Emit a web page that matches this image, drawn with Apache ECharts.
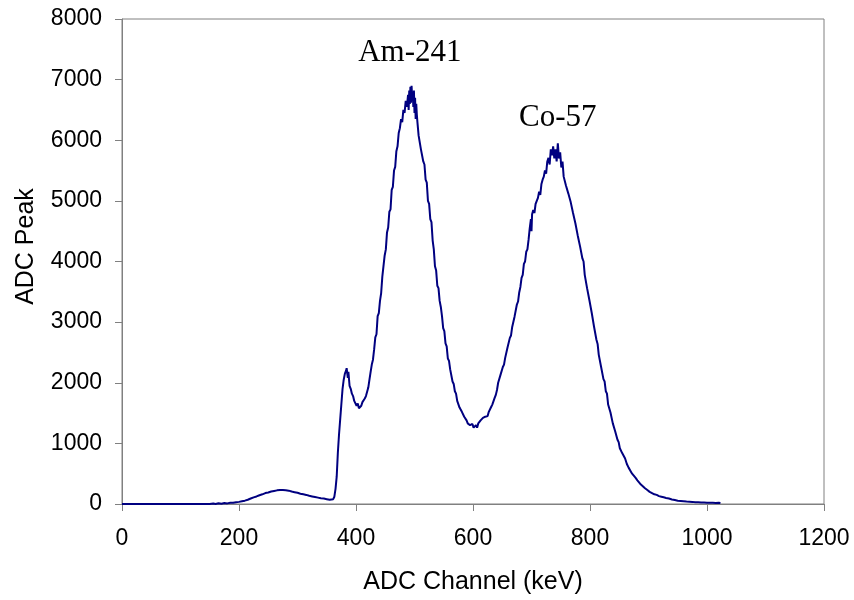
<!DOCTYPE html>
<html>
<head>
<meta charset="utf-8">
<script src="https://cdn.jsdelivr.net/npm/echarts@6/dist/echarts.min.js"></script>
<style>html,body{margin:0;padding:0;background:#fff}#c{width:854px;height:600px}</style>
</head>
<body>
<div id="c"></div>
<script>
const channels = [0,40,80,120,150,156,160,165,170,175,180,185,190,195,200,205,210,215,220,225,230,235,240,245,250,255,260,265,270,275,280,285,290,295,300,305,310,315,320,325,330,335,340,345,350,355,358,361,363,365,367,369,371,373,375,377,379,381,383,384,386,387,389,391,393,395,397,399,401,403,405,407,409,411,413,415,417,419,421,423,425,427,429,431,433,435,437,439,441,443,445,447,449,451,453,455,457,459,461,463,465,467,469,471,473,475,477,479,481,483,485,487,489,490,491,492,493,494,495,496,497,498,499,500,501,502,503,504,505,507,509,511,513,515,517,519,521,523,525,527,529,531,533,535,537,539,541,543,545,547,549,551,553,555,557,559,561,563,565,567,569,571,573,575,577,579,581,583,585,587,589,591,593,595,597,599,601,603,605,607,609,611,613,615,617,619,621,623,625,627,629,631,633,635,637,639,641,643,645,647,649,651,653,655,657,659,661,663,665,667,669,671,673,675,677,679,681,683,685,687,689,691,693,695,697,699,700,701,703,705,707,709,711,713,715,717,719,721,723,725,727,729,731,733,735,737,739,741,743,745,747,749,751,753,755,757,759,761,763,765,767,769,771,773,775,777,779,781,783,785,787,789,791,793,795,797,799,801,803,805,807,809,811,813,815,817,819,821,823,825,827,829,831,833,835,837,839,841,843,845,847,849,851,853,855,857,860,863,866,869,872,875,878,881,884,887,890,894,898,902,906,910,914,918,922,926,930,935,940,945,950,955,960,965,970,975,980,985,990,995,1000,1005,1010,1015,1020,1023];
const counts = [0,0,0,0,0,8,0,12,5,15,10,20,22,30,35,45,55,70,90,110,125,145,160,180,190,205,215,225,232,230,228,220,205,195,185,170,160,150,135,125,115,105,95,90,80,70,65,80,120,250,450,850,1150,1400,1650,1900,2050,2150,2200,2240,2080,2180,1950,1900,1820,1780,1700,1660,1620,1660,1580,1600,1620,1680,1650,1740,1780,1850,1920,2050,2180,2300,2380,
2550,2750,2800,3100,3150,3350,3480,3750,3780,4100,4200,4480,4560,4820,4860,5180,5230,5500,5560,5820,5900,6120,6200,
6350,6300,6500,6450,6650,6550,6750,6500,6820,6600,6880,6620,6900,6700,6780,6550,6820,6450,6700,6350,6600,6420,
6300,6080,6100,5850,5850,5650,5600,5350,5300,5000,4950,4700,4650,4350,4200,3920,3850,3600,3560,3350,3250,
3100,2900,2850,2650,2600,2400,2360,2220,2190,2020,1980,1860,1820,1700,1680,1590,1590,1520,1490,1440,1410,
1380,1330,1350,1300,1280,1320,1260,1270,1300,1260,1330,1350,1380,1360,1420,1400,1440,1470,1450,1520,1550,1600,1640,1660,1750,1800,
1880,2000,2010,2130,2150,2260,2300,2410,2440,2580,2600,2740,2780,2920,2950,3090,3110,3290,3340,3490,3580,3730,3780,3960,4000,4160,4200,4360,4550,4700,
4500,4780,4850,4800,4950,5000,5050,5150,5100,5280,5350,5400,5500,5450,5650,5710,5600,5850,5750,5900,5700,5850,5650,5950,5700,5800,5550,5650,5400,
5420,5250,5280,5120,5150,4980,5000,4800,4800,4630,4650,4430,4450,4250,4250,4050,4000,3780,3750,3560,3560,3360,3340,3150,3120,2920,2900,2710,2640,2460,2440,2260,2240,2060,2020,1860,1820,1640,1660,1510,1480,1330,1320,1200,1170,1060,1020,920,910,840,830,
750,660,600,550,500,470,430,390,360,320,290,260,230,200,180,160,150,130,120,110,100,90,75,65,55,50,45,40,38,35,30,28,25,25,22,20,20,18,20,15];
const xTicks = [0,200,400,600,800,1000,1200];
const yTicks = [0,1000,2000,3000,4000,5000,6000,7000,8000];
const peakLabels = ['Am-241','Co-57'];
const peakLabelPos = [[492,7440],[745,6370]];

const chart = echarts.init(document.getElementById('c'), null, {renderer:'canvas'});
const labelFont = {fontFamily:'Liberation Sans, Arial, sans-serif', fontSize:23, color:'#000'};
const nameFont = {fontFamily:'Liberation Sans, Arial, sans-serif', fontSize:25, color:'#000'};
chart.setOption({
  animation:false,
  backgroundColor:'#fff',
  grid:{left:122,right:30,top:19,bottom:96,show:true,borderColor:'#808080',borderWidth:1},
  xAxis:{type:'value',min:xTicks[0],max:xTicks[xTicks.length-1],interval:200,
    name:'ADC Channel (keV)',nameLocation:'middle',nameGap:66,nameTextStyle:nameFont,
    axisLine:{lineStyle:{color:'#808080',width:1}},
    axisTick:{inside:false,length:7,lineStyle:{color:'#808080'}},
    axisLabel:Object.assign({margin:23,formatter:v=>String(v)},labelFont),
    splitLine:{show:false}},
  yAxis:{type:'value',min:yTicks[0],max:yTicks[yTicks.length-1],interval:1000,
    name:'ADC Peak',nameLocation:'middle',nameGap:83,nameTextStyle:Object.assign({padding:[0,0,0,30]},nameFont),
    axisLine:{show:true,lineStyle:{color:'#808080',width:1}},
    axisTick:{show:true,inside:false,length:7,lineStyle:{color:'#808080'}},
    axisLabel:Object.assign({margin:20,formatter:v=>String(v)},labelFont),
    splitLine:{show:false}},
  series:[{
    type:'line',
    data:channels.map((c,i)=>[c,counts[i]]),
    showSymbol:false,
    lineStyle:{color:'#000080',width:2},
    itemStyle:{color:'#000080'},
    markPoint:{
      symbol:'circle',symbolSize:0,
      label:{show:true,position:'inside',formatter:p=>p.name,fontFamily:'Liberation Serif, Times New Roman, serif',fontSize:31,color:'#000'},
      data:peakLabels.map((n,i)=>({name:n,coord:peakLabelPos[i]}))
    }
  }]
});
</script>
</body>
</html>
